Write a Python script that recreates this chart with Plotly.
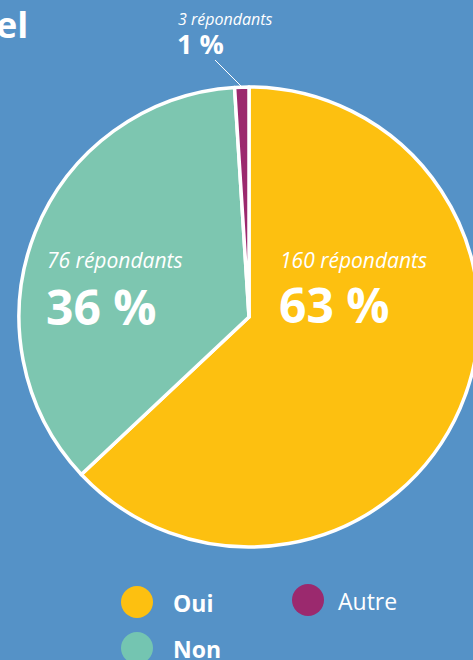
import plotly.graph_objects as go

# ---- data ----
categories = ["Oui", "Non", "Autre"]
shares = [63, 36, 1]            # percent
respondents = [160, 76, 3]
colors = ["#FDC010", "#7DC6B0", "#9B296E"]
legend_colors = ["#FDC010", "#74C5B1", "#9B296E"]
title_fragment = "el"

W, H = 490, 660
BG = "#5592C7"
FONT = "Open Sans"


def fx(x):
    return x / W


def fy(y):
    return 1 - y / H


fig = go.Figure()
fig.add_trace(go.Pie(
    values=shares,
    labels=categories,
    marker=dict(colors=colors, line=dict(color="white", width=3.5)),
    sort=False,
    direction="clockwise",
    rotation=0,
    textinfo="none",
    hoverinfo="label+value",
    showlegend=False,
    domain=dict(x=[fx(19), fx(479)], y=[fy(547), fy(87)]),
))

ann = []
# slice labels: x, y of small line, y of big line, big size, small size
label_pos = {
    "Oui": (279, 260, 304, 48, 21),
    "Non": (46, 260, 306, 48, 21),
    "Autre": (177, 19, 44, 27, 16),
}
for cat, share, n in zip(categories, shares, respondents):
    x, y1, y2, big, small = label_pos[cat]
    ann.append(dict(x=fx(x), y=fy(y1), xref="paper", yref="paper", xanchor="left", yanchor="middle",
                    text=f"<i>{n} répondants</i>", showarrow=False, borderpad=0,
                    font=dict(family=FONT, size=small, color="white")))
    ann.append(dict(x=fx(x - 1), y=fy(y2), xref="paper", yref="paper", xanchor="left", yanchor="middle",
                    text=f"<b>{share} %</b>", showarrow=False, borderpad=0,
                    font=dict(family=FONT, size=big, color="white")))

# title fragment
ann.append(dict(x=fx(30), y=fy(24), xref="paper", yref="paper", xanchor="right", yanchor="middle",
                text=f"<b>{title_fragment}</b>", showarrow=False,
                font=dict(family=FONT, size=36, color="white")))

# legend
legend_pos = {"Oui": (137, 602, True, 34), "Non": (137, 648, True, 34), "Autre": (308, 600, False, 28)}
shapes = []
for cat, col in zip(categories, legend_colors):
    cx, cy, bold, off = legend_pos[cat]
    r = 16
    shapes.append(dict(type="circle", xref="paper", yref="paper",
                       x0=fx(cx - r), x1=fx(cx + r), y0=fy(cy + r), y1=fy(cy - r),
                       fillcolor=col, line=dict(width=0)))
    ann.append(dict(x=fx(cx + off), y=fy(cy + 1), xref="paper", yref="paper", xanchor="left", yanchor="middle",
                    text=f"<b>{cat}</b>" if bold else cat, showarrow=False,
                    font=dict(family=FONT, size=23, color="white")))

# leader line for small slice
shapes.append(dict(type="line", xref="paper", yref="paper",
                   x0=fx(215), y0=fy(60), x1=fx(243), y1=fy(88),
                   line=dict(color="white", width=1)))

fig.update_layout(
    width=W, height=H,
    margin=dict(l=0, r=0, t=0, b=0),
    paper_bgcolor=BG, plot_bgcolor=BG,
    annotations=ann, shapes=shapes,
    font=dict(family=FONT, color="white"),
)

fig.write_html("out.html", config={"displayModeBar": False},
               post_script="document.documentElement.style.overflow='hidden';document.body.style.overflow='hidden';document.body.style.margin='0';")
